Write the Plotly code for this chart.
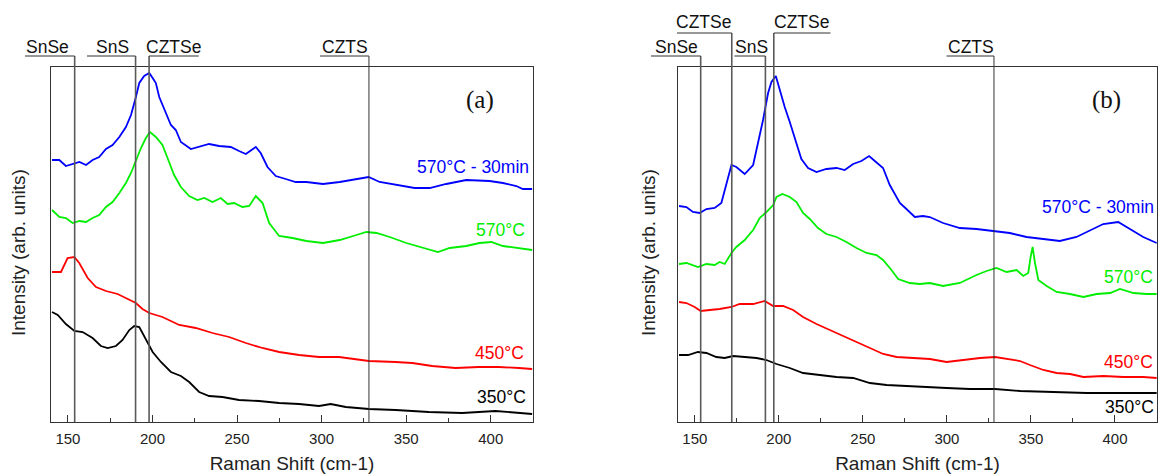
import plotly.graph_objects as go

W, H = 1159, 474

# ---------------- data: panel (a) ----------------
a_blue_x = [140.6, 144.9, 148.8, 152.8, 156.8, 160.7, 164.6, 168.5, 172.5, 176.4, 180.4, 184.3, 187.3, 190.2, 192.2, 195.1, 198.1, 200.1, 202.0, 204.0, 207.0, 210.9, 213.8, 216.8, 222.7, 227.6, 233.5, 239.4, 246.3, 251.2, 255.2, 261.1, 264.0, 268.0, 272.9, 278.8, 284.7, 291.0, 300.8, 310.7, 320.6, 327.8, 334.3, 344.2, 355.0, 363.9, 373.7, 385.5, 399.3, 407.2, 415.1, 419.0, 424.5]
a_blue_y = [262, 262, 256, 258, 260, 257, 262, 265, 273, 277, 285, 295, 307, 325, 339, 346, 349, 344, 339, 325, 312, 297, 292, 280, 273, 275, 278, 276, 275, 271, 268, 275, 269, 255, 246, 243, 240, 240, 238, 240, 243, 245, 240, 237, 234, 234, 238, 242, 241, 239, 236, 233, 233]

a_green_x = [140.6, 144.9, 148.8, 152.8, 156.8, 160.7, 164.6, 168.5, 172.5, 176.4, 180.4, 184.3, 187.3, 190.2, 193.2, 196.1, 198.5, 202.0, 205.9, 208.9, 212.8, 216.8, 221.7, 226.6, 230.6, 235.5, 240.4, 244.4, 248.3, 253.2, 257.2, 261.1, 265.1, 269.0, 274.9, 282.8, 291.0, 300.8, 310.7, 320.6, 326.5, 332.4, 340.3, 350.1, 360.0, 368.8, 375.7, 385.5, 393.4, 400.3, 407.2, 417.0, 424.5]
a_green_y = [212, 205, 204, 199, 201, 200, 204, 207, 215, 220, 229, 239, 249, 262, 274, 284, 290, 285, 277, 264, 247, 235, 226, 222, 224, 220, 224, 218, 219, 215, 216, 226, 219, 199, 186, 184, 181, 179, 182, 187, 190, 189, 185, 179, 174, 170, 174, 176, 179, 180, 176, 174, 172]

a_red_x = [140.6, 145.9, 149.8, 153.8, 156.7, 161.7, 166.6, 172.5, 179.4, 185.3, 190.2, 194.1, 198.1, 205.9, 215.8, 225.6, 235.5, 245.3, 255.2, 265.0, 274.9, 286.7, 298.5, 310.3, 318.2, 328.0, 343.8, 353.6, 365.4, 379.2, 393.0, 404.8, 416.6, 424.5]
a_red_y = [150, 150, 164, 165, 159, 144, 135, 131, 128, 123, 119, 113, 109, 105, 97, 94, 89, 85, 79, 74, 70, 67, 65, 65, 63, 61, 60, 59, 56, 54, 55, 55, 54, 53]

a_black_x = [140.6, 144.0, 148.8, 153.8, 158.7, 164.6, 169.5, 173.5, 178.4, 182.3, 186.3, 189.2, 192.2, 196.1, 200.1, 205.0, 210.9, 216.8, 221.7, 227.6, 233.5, 241.4, 251.2, 263.0, 274.9, 286.7, 298.5, 305.4, 314.3, 328.0, 343.8, 363.4, 383.1, 402.8, 416.6, 424.5]
a_black_y = [110, 107, 98, 91, 90, 84, 76, 74, 76, 82, 92, 96, 95, 82, 70, 60, 50, 46, 40, 30, 26, 25, 22, 21, 19, 18, 16, 18, 15, 13, 12, 10, 9, 11, 9, 8]

# ---------------- data: panel (b) ----------------
b_blue_x = [140.6, 145.0, 148.9, 152.9, 156.9, 161.8, 165.8, 168.8, 171.8, 174.7, 179.7, 184.7, 187.6, 190.6, 193.6, 195.6, 198.2, 200.5, 203.5, 206.5, 209.5, 213.4, 217.4, 222.4, 228.3, 234.3, 239.2, 244.2, 249.1, 253.7, 257.1, 262.0, 266.0, 272.0, 275.9, 280.9, 285.8, 289.8, 297.7, 307.7, 317.6, 329.1, 337.4, 347.4, 357.3, 367.2, 377.1, 386.1, 393.0, 401.9, 408.9, 416.8, 424.8]
b_blue_y = [216, 215, 210, 209, 213, 214, 219, 237, 257, 255, 248, 257, 279, 302, 329, 340, 346, 332, 315, 300, 284, 263, 254, 250, 253, 254, 252, 258, 261, 266, 261, 254, 237, 219, 213, 205, 206, 205, 199, 194, 193, 191, 189, 185, 183, 181, 185, 192, 198, 200, 193, 185, 179]

b_green_x = [140.6, 145.0, 151.9, 156.9, 161.8, 164.8, 167.8, 171.8, 174.7, 179.7, 184.7, 188.6, 192.6, 196.6, 198.6, 202.1, 206.5, 210.5, 214.4, 218.4, 223.3, 228.3, 234.3, 240.2, 246.2, 252.2, 258.1, 262.0, 267.0, 271.0, 277.9, 283.9, 289.8, 297.7, 307.7, 317.6, 323.6, 329.5, 335.5, 341.5, 345.4, 348.4, 349.8, 351.0, 352.4, 354.4, 359.3, 365.3, 373.2, 381.2, 389.1, 397.1, 403.0, 411.0, 418.9, 424.8]
b_green_y = [158, 159, 155, 158, 157, 160, 158, 169, 175, 182, 192, 204, 210, 217, 225, 228, 225, 220, 209, 203, 194, 188, 185, 180, 174, 169, 167, 162, 152, 143, 139, 138, 139, 136, 139, 147, 151, 154, 150, 152, 146, 149, 165, 175, 159, 142, 136, 130, 128, 125, 128, 129, 133, 129, 128, 128]

b_red_x = [140.6, 145.0, 149.9, 153.5, 158.9, 164.8, 171.8, 176.7, 184.7, 191.6, 196.6, 202.5, 208.5, 214.4, 222.4, 230.3, 238.3, 246.2, 254.2, 262.1, 270.1, 280.0, 289.9, 299.8, 309.8, 319.7, 328.6, 335.5, 343.5, 349.4, 357.4, 365.3, 373.3, 381.2, 393.1, 405.0, 416.9, 424.8]
b_red_y = [120, 119, 115, 111, 112, 113, 115, 118, 118, 121, 116, 116, 112, 105, 98, 92, 86, 80, 74, 68, 65, 64, 63, 60, 62, 64, 65, 63, 61, 57, 52, 49, 48, 45, 46, 45, 45, 44]

b_black_x = [140.6, 146.0, 151.9, 156.9, 162.8, 167.8, 172.8, 178.7, 186.7, 192.6, 198.6, 206.5, 214.4, 224.4, 234.3, 244.2, 254.2, 264.1, 274.0, 285.9, 299.8, 313.7, 328.6, 343.5, 363.3, 383.2, 403.0, 424.8]
b_black_y = [67, 67, 70, 69, 65, 64, 66, 65, 64, 62, 58, 54, 49, 47, 45, 44, 39, 37, 36, 35, 34, 33, 33, 31, 30, 29, 29, 29]

series_names = ["570°C - 30min", "570°C", "450°C", "350°C"]
series_colors = ["#0000FF", "#00EE00", "#FF0000", "#000000"]

a_peaks = [154, 190, 198, 328]
a_peak_labels = ["SnSe", "SnS", "CZTSe", "CZTS"]
b_peaks = [153.5, 172, 192, 197, 328]
b_peak_labels = ["SnSe", "CZTSe", "SnS", "CZTSe", "CZTS"]

x_range = [140, 425]
y_range = [0, 355]

# ---------------- layout geometry (pixels) ----------------
A_DOM = (51, 533)
B_DOM = (678, 1157)
PLOT_TOP, PLOT_BOT = 67, 422

def px(xp):
    return xp / W

def py(yp):
    return 1 - yp / H

def data_to_px(v, dom):
    return dom[0] + (v - x_range[0]) / (x_range[1] - x_range[0]) * (dom[1] - dom[0])

FONT = "Liberation Sans, Arial, sans-serif"

fig = go.Figure()

panels = [
    ("x", "y", [(a_blue_x, a_blue_y), (a_green_x, a_green_y), (a_red_x, a_red_y), (a_black_x, a_black_y)]),
    ("x2", "y2", [(b_blue_x, b_blue_y), (b_green_x, b_green_y), (b_red_x, b_red_y), (b_black_x, b_black_y)]),
]
for xa, ya, series in panels:
    for (sx, sy), name, col in zip(series, series_names, series_colors):
        fig.add_trace(go.Scatter(x=sx, y=sy, mode="lines", name=name,
                                 line=dict(color=col, width=1.8),
                                 xaxis=xa, yaxis=ya, showlegend=False, hoverinfo="skip"))

axis_common = dict(range=x_range, showgrid=False, zeroline=False, showline=True,
                   mirror=True, linecolor="#333", linewidth=1.3,
                   ticks="inside", ticklen=7, tickcolor="#333", tickwidth=1,
                   tick0=0, dtick=50, ticklabelstandoff=3,
                   minor=dict(ticks="inside", ticklen=4, dtick=25, tickcolor="#333", showgrid=False),
                   tickfont=dict(family=FONT, size=15, color="#222"),
                   title=dict(text="Raman Shift (cm-1)", font=dict(family=FONT, size=19, color="#222"), standoff=13))
yaxis_common = dict(range=y_range, showgrid=False, zeroline=False, showline=True,
                    mirror=True, linecolor="#333", linewidth=1.3,
                    ticks="", showticklabels=False)

fig.update_layout(
    width=W, height=H,
    margin=dict(l=0, r=0, t=0, b=0),
    paper_bgcolor="white", plot_bgcolor="white",
    xaxis=dict(domain=[px(A_DOM[0]), px(A_DOM[1])], anchor="y", **axis_common),
    yaxis=dict(domain=[py(PLOT_BOT), py(PLOT_TOP)], anchor="x", **yaxis_common),
    xaxis2=dict(domain=[px(B_DOM[0]), px(B_DOM[1])], anchor="y2", **axis_common),
    yaxis2=dict(domain=[py(PLOT_BOT), py(PLOT_TOP)], anchor="x2", **yaxis_common),
)

shapes = []
annotations = []

# y-axis titles (placed slightly below the domain centre, as in the reference)
for xx in (18, 648):
    annotations.append(dict(text="Intensity (arb. units)", xref="paper", yref="paper",
                            x=px(xx), y=py(253), textangle=-90, xanchor="center", yanchor="middle",
                            showarrow=False, font=dict(family=FONT, size=19, color="#222")))

ROW_TEXT = {1: 47, 2: 22}
ROW_LINE = {1: 56, 2: 33}

# (text center px, underline other-end px, row)
a_label_geom = [(48, 25, 1), (112, 87, 1), (173, 198.7, 1), (344.6, 320, 1)]
b_label_geom = [(676, 651, 1), (703, 677, 2), (751, 734.4, 1), (801, 830.5, 2), (971, 946.5, 1)]

for xref, dom, peaks, labels, geom in [("x", A_DOM, a_peaks, a_peak_labels, a_label_geom),
                                         ("x2", B_DOM, b_peaks, b_peak_labels, b_label_geom)]:
    for pk, lab, (tc, uend, row) in zip(peaks, labels, geom):
        thin = lab == "CZTS"
        shapes.append(dict(type="line", xref=xref, yref="paper", x0=pk, x1=pk,
                           y0=py(PLOT_BOT), y1=py(ROW_LINE[row]),
                           line=dict(color="#333" if thin else "#5a5a5a", width=1 if thin else 1.6)))
        lx = data_to_px(pk, dom)
        shapes.append(dict(type="line", xref="paper", yref="paper",
                           x0=px(min(lx, uend)), x1=px(max(lx, uend)),
                           y0=py(ROW_LINE[row]), y1=py(ROW_LINE[row]),
                           line=dict(color="#333", width=1)))
        annotations.append(dict(text=lab, xref="paper", yref="paper", x=px(tc), y=py(ROW_TEXT[row]),
                                xanchor="center", yanchor="middle", showarrow=False,
                                font=dict(family=FONT, size=17.5, color="#111")))

# series labels
a_lab_pos = [(530.7, 166.7), (527.3, 230), (526, 352.7), (527.7, 397.3)]
b_lab_pos = [(1156, 207.3), (1155, 276.7), (1155, 361.7), (1156, 406.7)]
for pos in (a_lab_pos, b_lab_pos):
    for (xx, yy), name, col in zip(pos, series_names, series_colors):
        annotations.append(dict(text=name, xref="paper", yref="paper", x=px(xx), y=py(yy),
                                xanchor="right", yanchor="middle", showarrow=False,
                                font=dict(family=FONT, size=17.5, color=col)))

annotations.append(dict(text="(a)", xref="paper", yref="paper", x=px(480), y=py(100),
                        xanchor="center", yanchor="middle", showarrow=False,
                        font=dict(family="Liberation Serif, Times New Roman, serif", size=25, color="#111")))
annotations.append(dict(text="(b)", xref="paper", yref="paper", x=px(1106), y=py(100),
                        xanchor="center", yanchor="middle", showarrow=False,
                        font=dict(family="Liberation Serif, Times New Roman, serif", size=25, color="#111")))

fig.update_layout(shapes=shapes, annotations=annotations)
fig.write_html("out.html", config={"displayModeBar": False},
               post_script="document.body.style.margin='0';document.body.style.overflow='hidden';")
